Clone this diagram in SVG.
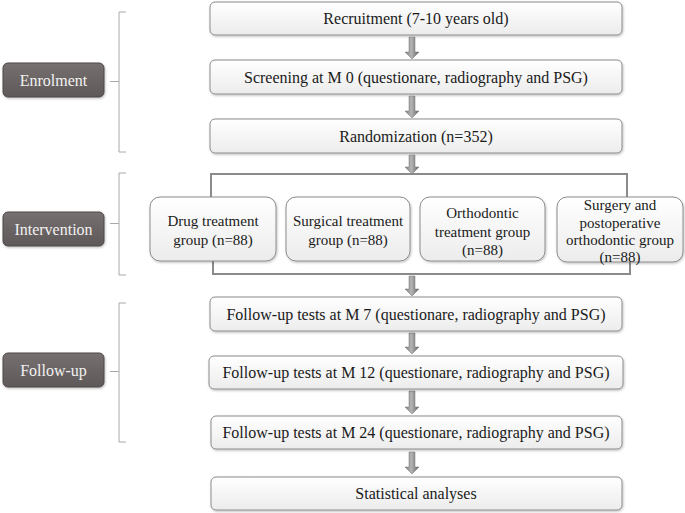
<svg xmlns="http://www.w3.org/2000/svg" width="685" height="513" viewBox="0 0 685 513">
<defs>
<linearGradient id="boxg" x1="0" y1="0" x2="0" y2="1"><stop offset="0" stop-color="#ffffff"/><stop offset="1" stop-color="#ececec"/></linearGradient>
<linearGradient id="labg" x1="0" y1="0" x2="0" y2="1"><stop offset="0" stop-color="#777070"/><stop offset="1" stop-color="#5e5858"/></linearGradient>
<linearGradient id="arrg" x1="0" y1="0" x2="1" y2="0"><stop offset="0" stop-color="#808080"/><stop offset="0.45" stop-color="#b4b4b4"/><stop offset="1" stop-color="#666666"/></linearGradient>
<filter id="sh" x="-5%" y="-10%" width="110%" height="130%"><feDropShadow dx="0.8" dy="1.2" stdDeviation="0.8" flood-color="#000" flood-opacity="0.25"/></filter>
</defs>
<style>
.box{fill:url(#boxg);stroke:#8c8c8c;stroke-width:1;filter:url(#sh)}
.lab{fill:url(#labg);stroke:#4e4848;stroke-width:1;filter:url(#sh)}
.t{font-family:"Liberation Serif","Times New Roman",serif;font-size:16px;fill:#1a1a1a;text-anchor:middle}
.g{font-family:"Liberation Serif","Times New Roman",serif;font-size:15px;fill:#1a1a1a;text-anchor:middle}
.lt{font-family:"Liberation Serif","Times New Roman",serif;font-size:16px;fill:#f2f2f2;text-anchor:middle}
.br{fill:none;stroke:#a8a8a8;stroke-width:1}
.fr{fill:none;stroke:#8a8a8a;stroke-width:2}
.ar{fill:url(#arrg);stroke:#777;stroke-width:0.5}
</style>

<g id="enrolment">
<rect class="lab" x="3" y="63" width="101" height="34" rx="5"/>
<text class="lt" x="53.5" y="85.5">Enrolment</text>
</g>
<g id="intervention">
<rect class="lab" x="3" y="212" width="101" height="34" rx="5"/>
<text class="lt" x="53.5" y="234.5">Intervention</text>
</g>
<g id="followup">
<rect class="lab" x="3" y="353" width="101" height="34" rx="5"/>
<text class="lt" x="53.5" y="375.5">Follow-up</text>
</g>

<g id="brackets">
<path class="br" d="M126 12 H119 V152 H126 M110 81.5 H119"/>
<path class="br" d="M126 173 H119 V275 H126 M110 223.5 H119"/>
<path class="br" d="M126 303 H119 V442 H126 M110 371.5 H119"/>
</g>

<g id="recruitment">
<rect class="box" x="210" y="2" width="412" height="33" rx="5"/>
<text class="t" x="416" y="24">Recruitment (7-10 years old)</text>
</g>
<g id="screening">
<rect class="box" x="210" y="60" width="412" height="34" rx="5"/>
<text class="t" x="416" y="82.5">Screening at M 0 (questionare, radiography and PSG)</text>
</g>
<g id="randomization">
<rect class="box" x="210" y="119" width="412" height="34" rx="5"/>
<text class="t" x="416" y="141.5">Randomization (n=352)</text>
</g>

<g id="connectors">
<path class="fr" d="M211 197 V174 H627 V197"/>
<path class="fr" d="M213 261 V274 H630 V261"/>
<path class="ar" d="M409 37 H415 V52 H419 L412 59 L405 52 H409 Z"/>
<path class="ar" d="M409 96 H415 V111 H419 L412 118 L405 111 H409 Z"/>
<path class="ar" d="M409 155 H415 V167 H419 L412 174 L405 167 H409 Z"/>
<path class="ar" d="M409 276 H415 V289 H419 L412 296 L405 289 H409 Z"/>
<path class="ar" d="M409 333 H415 V347 H419 L412 354 L405 347 H409 Z"/>
<path class="ar" d="M409 391 H415 V407 H419 L412 414 L405 407 H409 Z"/>
<path class="ar" d="M409 452 H415 V467 H419 L412 474 L405 467 H409 Z"/>
</g>

<g id="drug">
<rect class="box" x="150" y="197" width="126" height="64" rx="10"/>
<text class="g" x="213" y="226">Drug treatment</text>
<text class="g" x="213" y="245">group (n=88)</text>
</g>
<g id="surgical">
<rect class="box" x="286" y="197" width="124" height="64" rx="10"/>
<text class="g" x="348" y="226">Surgical treatment</text>
<text class="g" x="348" y="245">group (n=88)</text>
</g>
<g id="orthodontic">
<rect class="box" x="420" y="197" width="125" height="64" rx="10"/>
<text class="g" x="482.5" y="218">Orthodontic</text>
<text class="g" x="482.5" y="237">treatment group</text>
<text class="g" x="482.5" y="255">(n=88)</text>
</g>
<g id="surgery-ortho">
<rect class="box" x="557" y="197" width="126" height="65" rx="10"/>
<text class="g" x="620" y="210">Surgery and</text>
<text class="g" x="620" y="228">postoperative</text>
<text class="g" x="620" y="245">orthodontic group</text>
<text class="g" x="620" y="262">(n=88)</text>
</g>

<g id="m7">
<rect class="box" x="210" y="297" width="412" height="34" rx="5"/>
<text class="t" x="416" y="319.5">Follow-up tests at M 7 (questionare, radiography and PSG)</text>
</g>
<g id="m12">
<rect class="box" x="209" y="356" width="414" height="33" rx="5"/>
<text class="t" x="416" y="378">Follow-up tests at M 12 (questionare, radiography and PSG)</text>
</g>
<g id="m24">
<rect class="box" x="211" y="416" width="411" height="33" rx="5"/>
<text class="t" x="416" y="438">Follow-up tests at M 24 (questionare, radiography and PSG)</text>
</g>
<g id="stats">
<rect class="box" x="211" y="477" width="411" height="33" rx="5"/>
<text class="t" x="416" y="499">Statistical analyses</text>
</g>
</svg>
